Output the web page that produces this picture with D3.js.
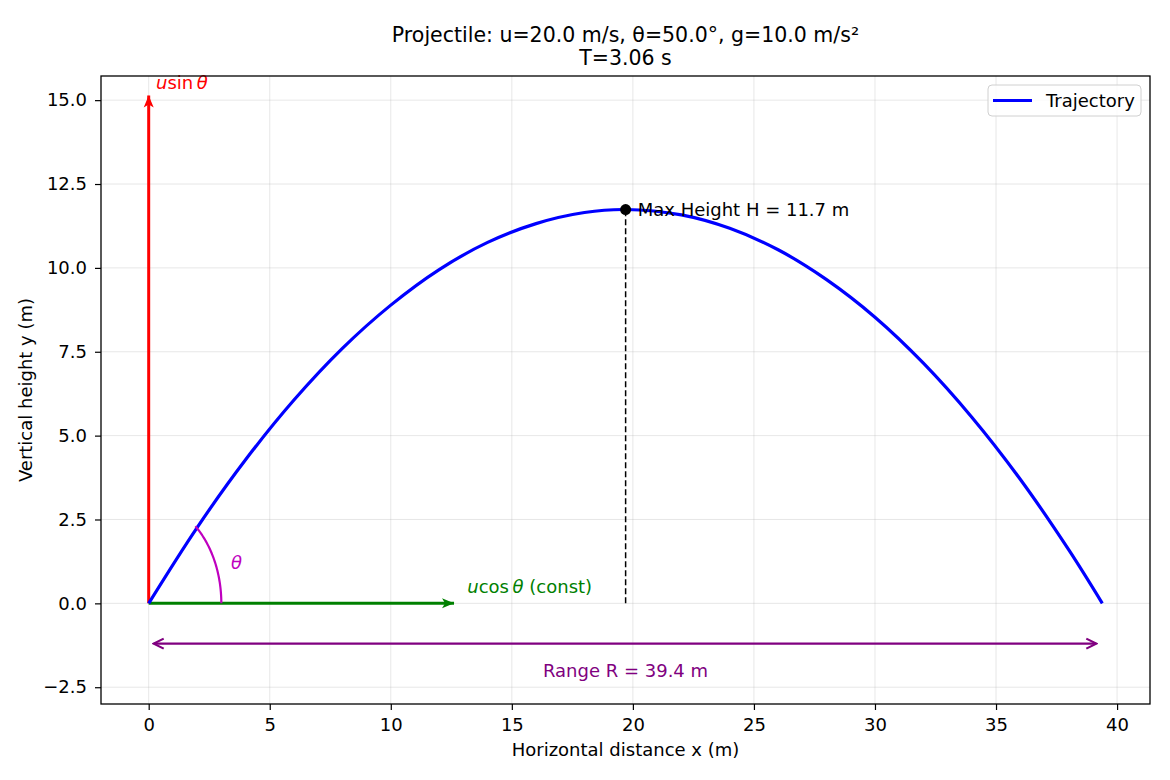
<!DOCTYPE html>
<html>
<head>
<meta charset="utf-8">
<script src="https://cdn.jsdelivr.net/npm/d3@7"></script>
<style>
  body { margin: 0; background: #fff; }
  text { font-family: "DejaVu Sans", sans-serif; }
</style>
</head>
<body>
<div id="chart"></div>
<script>
// Datos de la trayectoria
const trajX = [0, 2, 4, 6, 8, 10, 12, 14, 16, 18, 19.7, 22, 24, 26, 28, 30, 32, 34, 36, 38, 39.39];
const trajY = [0, 2.26, 4.28, 6.06, 7.60, 8.89, 9.95, 10.76, 11.32, 11.65, 11.74, 11.58, 11.18, 10.54, 9.65, 8.53, 7.16, 5.55, 3.70, 1.60, 0];

// Valores clave
const uSin = 15.32, uCos = 12.86;
const peakX = 19.7, peakH = 11.74;
const rangeR = 39.39;
const angleDeg = 50, arcRadius = 3;

const xTicks = [0, 5, 10, 15, 20, 25, 30, 35, 40];
const yTicks = [-2.5, 0, 2.5, 5, 7.5, 10, 12.5, 15];

const titleLines = ['Projectile: u=20.0 m/s, θ=50.0°, g=10.0 m/s²', 'T=3.06 s'];

let W = 1170, H = 780;
let FS = 18;

let svg = d3.select('#chart').append('svg')
    .attr('width', W).attr('height', H);

let x = d3.scaleLinear().domain([-1.97, 41.36]).range([101, 1150]);
let y = d3.scaleLinear().domain([-3.0, 15.72]).range([704, 76]);

//Grid
svg.append('g').selectAll('line').data(xTicks).enter().append('line')
    .attr('x1', d => x(d)).attr('x2', d => x(d))
    .attr('y1', 76).attr('y2', 704)
    .attr('stroke', '#b0b0b0').attr('stroke-opacity', 0.3).attr('stroke-width', 1);
svg.append('g').selectAll('line').data(yTicks).enter().append('line')
    .attr('y1', d => y(d)).attr('y2', d => y(d))
    .attr('x1', 101).attr('x2', 1150)
    .attr('stroke', '#b0b0b0').attr('stroke-opacity', 0.3).attr('stroke-width', 1);

//Ejes
let xAxis = svg.append('g').attr('transform', 'translate(0,704)')
    .call(d3.axisBottom(x).tickValues(xTicks).tickFormat(d3.format('d')).tickSize(6).tickPadding(8));
let yAxis = svg.append('g').attr('transform', 'translate(101,0)')
    .call(d3.axisLeft(y).tickValues(yTicks).tickFormat(d3.format('.1f')).tickSize(6).tickPadding(8));
[xAxis, yAxis].forEach(function(g) {
    g.select('.domain').remove();
    g.selectAll('text').attr('font-size', FS).attr('fill', '#000')
        .attr('font-family', '"DejaVu Sans", sans-serif');
    g.selectAll('.tick line').attr('stroke', '#000').attr('stroke-width', 1.2);
});

// Marcadores de flecha
let defs = svg.append('defs');
function filledHead(id, color) {
    defs.append('marker').attr('id', id)
        .attr('markerUnits', 'userSpaceOnUse')
        .attr('viewBox', '-14 -7 14 14').attr('refX', 0).attr('refY', 0)
        .attr('markerWidth', 14).attr('markerHeight', 14).attr('orient', 'auto')
        .append('path').attr('d', 'M0,0 L-12,-5 L-9,0 L-12,5 Z').attr('fill', color);
}
filledHead('headRed', 'red');
filledHead('headGreen', 'green');
defs.append('marker').attr('id', 'openPurple')
    .attr('markerUnits', 'userSpaceOnUse')
    .attr('viewBox', '-12 -7 14 14').attr('refX', 0).attr('refY', 0)
    .attr('markerWidth', 14).attr('markerHeight', 14).attr('orient', 'auto-start-reverse')
    .append('path').attr('d', 'M-10,-5 L0,0 L-10,5').attr('fill', 'none')
    .attr('stroke', 'purple').attr('stroke-width', 2.2);

let plot = svg.append('g');

// Flechas de componentes
plot.append('line')
    .attr('x1', x(0)).attr('y1', y(0)).attr('x2', x(0)).attr('y2', y(uSin) + 6)
    .attr('stroke', 'red').attr('stroke-width', 3).attr('marker-end', 'url(#headRed)');
plot.append('line')
    .attr('x1', x(0)).attr('y1', y(0)).attr('x2', x(uCos) - 6).attr('y2', y(0))
    .attr('stroke', 'green').attr('stroke-width', 3).attr('marker-end', 'url(#headGreen)');

// Trayectoria
let pts = trajX.map((d, i) => [d, trajY[i]]);
plot.append('path').datum(pts)
    .attr('d', d3.line().x(d => x(d[0])).y(d => y(d[1])).curve(d3.curveCatmullRom.alpha(0.5)))
    .attr('fill', 'none').attr('stroke', 'blue').attr('stroke-width', 3.2);

// Arco del angulo
let arcPts = d3.range(0, angleDeg + 0.1, 1).map(a => [arcRadius * Math.cos(a * Math.PI / 180), arcRadius * Math.sin(a * Math.PI / 180)]);
plot.append('path').datum(arcPts)
    .attr('d', d3.line().x(d => x(d[0])).y(d => y(d[1])))
    .attr('fill', 'none').attr('stroke', '#bf00bf').attr('stroke-width', 2.2);
plot.append('text').attr('x', x(3.4)).attr('y', y(1.2)).attr('dy', '0.35em')
    .attr('fill', '#bf00bf').attr('font-size', FS).attr('font-style', 'italic').text('θ');

// Altura maxima
plot.append('line')
    .attr('x1', x(peakX)).attr('x2', x(peakX)).attr('y1', y(0)).attr('y2', y(peakH))
    .attr('stroke', '#000').attr('stroke-width', 1.5).attr('stroke-dasharray', '6,3');
plot.append('circle').attr('cx', x(peakX)).attr('cy', y(peakH)).attr('r', 5.5).attr('fill', '#000');
plot.append('text').attr('x', x(peakX + 0.5)).attr('y', y(peakH)).attr('dy', '0.35em')
    .attr('font-size', FS).attr('fill', '#000').text('Max Height H = 11.7 m');

// Alcance
plot.append('line')
    .attr('x1', x(0) + 5).attr('x2', x(rangeR) - 6).attr('y1', y(-1.2)).attr('y2', y(-1.2))
    .attr('stroke', 'purple').attr('stroke-width', 2.2)
    .attr('marker-start', 'url(#openPurple)').attr('marker-end', 'url(#openPurple)');
plot.append('text').attr('x', x(rangeR / 2)).attr('y', y(-2.0)).attr('dy', '0.35em')
    .attr('text-anchor', 'middle').attr('font-size', FS).attr('fill', 'purple').text('Range R = 39.4 m');

// Etiquetas de componentes
let tSin = plot.append('text').attr('x', x(0.3)).attr('y', y(uSin))
    .attr('font-size', FS).attr('fill', 'red');
tSin.append('tspan').attr('font-style', 'italic').text('u');
tSin.append('tspan').text('sin\u2009');
tSin.append('tspan').attr('font-style', 'italic').text('θ');

let tCos = plot.append('text').attr('x', x(uCos + 0.3)).attr('y', y(0.3))
    .attr('font-size', FS).attr('fill', 'green');
tCos.append('tspan').attr('font-style', 'italic').text('u');
tCos.append('tspan').text('cos\u2009');
tCos.append('tspan').attr('font-style', 'italic').text('θ');
tCos.append('tspan').text(' (const)');

// Marco
svg.append('rect').attr('x', 101).attr('y', 76).attr('width', 1150 - 101).attr('height', 704 - 76)
    .attr('fill', 'none').attr('stroke', '#000').attr('stroke-width', 1.3);

// Leyenda
let leg = svg.append('g').attr('transform', 'translate(988,85)');
leg.append('rect').attr('width', 153).attr('height', 31).attr('rx', 4)
    .attr('fill', '#fff').attr('fill-opacity', 0.8).attr('stroke', '#d0d0d0');
leg.append('line').attr('x1', 5).attr('x2', 44).attr('y1', 15.5).attr('y2', 15.5)
    .attr('stroke', 'blue').attr('stroke-width', 3.2);
leg.append('text').attr('x', 58).attr('y', 15.5).attr('dy', '0.35em')
    .attr('font-size', FS).text('Trajectory');

// Titulo
svg.append('g').selectAll('text').data(titleLines).enter().append('text')
    .attr('x', 625.5).attr('y', (d, i) => 42 + i * 23)
    .attr('text-anchor', 'middle').attr('font-size', 20.5).text(d => d);

// Etiquetas de ejes
svg.append('text').attr('x', 625.5).attr('y', 756).attr('text-anchor', 'middle')
    .attr('font-size', FS).text('Horizontal distance x (m)');
svg.append('text').attr('transform', 'translate(32,390) rotate(-90)').attr('text-anchor', 'middle')
    .attr('font-size', FS).text('Vertical height y (m)');
</script>
</body>
</html>
